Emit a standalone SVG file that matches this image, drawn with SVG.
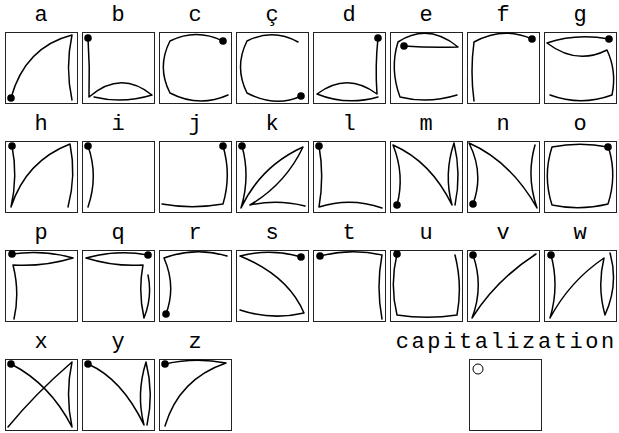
<svg xmlns="http://www.w3.org/2000/svg" width="619" height="433" viewBox="0 0 619 433">
<style>
.box{fill:#fff;stroke:#222;stroke-width:1}
.s{fill:none;stroke:#000;stroke-width:1.5;stroke-linejoin:round;stroke-linecap:round}
.dot{fill:#000}
.lbl{font-family:"Liberation Mono","Courier New",monospace;font-size:22px;fill:#000;text-anchor:middle}
.wide{letter-spacing:2.6px}
</style>
<rect width="619" height="433" fill="#fff"/>
<g id="a" transform="translate(5,32)"><text class="lbl" x="36" y="-11">a</text><rect class="box" x="0.5" y="0.5" width="72" height="71"/><path class="s" d="M6,66 Q20,15 67,3 Q60,35.5 67,68"/><circle class="dot" cx="6" cy="66" r="3.8"/></g>
<g id="b" transform="translate(82,32)"><text class="lbl" x="36" y="-11">b</text><rect class="box" x="0.5" y="0.5" width="72" height="71"/><path class="s" d="M6,6 Q8,35 7,65 Q38.5,37.4 70,63 Q41,72 12,65"/><circle class="dot" cx="6" cy="6" r="3.8"/></g>
<g id="c" transform="translate(159,32)"><text class="lbl" x="36" y="-11">c</text><rect class="box" x="0.5" y="0.5" width="72" height="71"/><path class="s" d="M64,9 Q37,-4 11,9 Q-2.4,35 11,61 Q40,76 69,63"/><circle class="dot" cx="64" cy="9" r="3.8"/></g>
<g id="c-cedilla" transform="translate(236,32)"><text class="lbl" x="36" y="-11">ç</text><rect class="box" x="0.5" y="0.5" width="72" height="71"/><path class="s" d="M62,10 Q37,-4 11,9 Q-2,35 11,61 Q40,76 65,64"/><circle class="dot" cx="65" cy="64" r="3.8"/></g>
<g id="d" transform="translate(313,32)"><text class="lbl" x="36" y="-11">d</text><rect class="box" x="0.5" y="0.5" width="72" height="71"/><path class="s" d="M65,6 Q62,34 64,62 Q34,39.4 4,62 Q33.5,74 65,65"/><circle class="dot" cx="65" cy="6" r="3.8"/></g>
<g id="e" transform="translate(390,32)"><text class="lbl" x="36" y="-11">e</text><rect class="box" x="0.5" y="0.5" width="72" height="71"/><path class="s" d="M14,14 Q41,16 68,15 Q38,-9.5 8,10 Q-0.4,37 10,65 Q38,72 67,63"/><circle class="dot" cx="14" cy="14" r="3.8"/></g>
<g id="f" transform="translate(467,32)"><text class="lbl" x="36" y="-11">f</text><rect class="box" x="0.5" y="0.5" width="72" height="71"/><path class="s" d="M65,7 Q36,-6 7,10 Q3,39.5 7,69"/><circle class="dot" cx="65" cy="7" r="3.8"/></g>
<g id="g" transform="translate(544,32)"><text class="lbl" x="36" y="-11">g</text><rect class="box" x="0.5" y="0.5" width="72" height="71"/><path class="s" d="M65,7 Q32,1 3,11 Q32.4,33.5 63,18 Q73,39.5 68,63 Q37,74.4 6,63"/><circle class="dot" cx="65" cy="7" r="3.8"/></g>
<g id="h" transform="translate(5,141)"><text class="lbl" x="36" y="-11">h</text><rect class="box" x="0.5" y="0.5" width="72" height="71"/><path class="s" d="M7,5 Q13,35 6,66 Q21,20 65,3 Q71.4,34.5 63,66"/><circle class="dot" cx="7" cy="5" r="3.8"/></g>
<g id="i" transform="translate(82,141)"><text class="lbl" x="36" y="-11">i</text><rect class="box" x="0.5" y="0.5" width="72" height="71"/><path class="s" d="M6,5 Q16.6,35 6,66"/><circle class="dot" cx="6" cy="5" r="3.8"/></g>
<g id="j" transform="translate(159,141)"><text class="lbl" x="36" y="-11">j</text><rect class="box" x="0.5" y="0.5" width="72" height="71"/><path class="s" d="M64,5 Q72.6,34 64,63 Q33,68.4 3,63"/><circle class="dot" cx="64" cy="5" r="3.8"/></g>
<g id="k" transform="translate(236,141)"><text class="lbl" x="36" y="-11">k</text><rect class="box" x="0.5" y="0.5" width="72" height="71"/><path class="s" d="M6,5 Q14.5,36 5,67 Q24.8,25.1 67,6 Q49.4,43.1 14,64 Q41.5,58 69,65"/><circle class="dot" cx="6" cy="5" r="3.8"/></g>
<g id="l" transform="translate(313,141)"><text class="lbl" x="36" y="-11">l</text><rect class="box" x="0.5" y="0.5" width="72" height="71"/><path class="s" d="M6,5 Q11.4,35 6,66 Q37.5,56 69,67"/><circle class="dot" cx="6" cy="5" r="3.8"/></g>
<g id="m" transform="translate(390,141)"><text class="lbl" x="36" y="-11">m</text><rect class="box" x="0.5" y="0.5" width="72" height="71"/><path class="s" d="M7,64 Q15,34 3,4 Q40.9,20.6 62,64 Q53.6,33 64,2 Q71.5,33 65,64"/><circle class="dot" cx="7" cy="64" r="3.8"/></g>
<g id="n" transform="translate(467,141)"><text class="lbl" x="36" y="-11">n</text><rect class="box" x="0.5" y="0.5" width="72" height="71"/><path class="s" d="M6,63 Q17.4,32.5 2,2 Q43.4,20.1 70,67 Q59,35.5 68,4"/><circle class="dot" cx="6" cy="63" r="3.8"/></g>
<g id="o" transform="translate(544,141)"><text class="lbl" x="36" y="-11">o</text><rect class="box" x="0.5" y="0.5" width="72" height="71"/><path class="s" d="M64,6 Q36,0.6 8,6 Q-1.4,35 8,64 Q36,70 64,63 Q73,35.5 65,8"/><circle class="dot" cx="64" cy="6" r="3.8"/></g>
<g id="p" transform="translate(5,250)"><text class="lbl" x="36" y="-11">p</text><rect class="box" x="0.5" y="0.5" width="72" height="71"/><path class="s" d="M7,4 Q38,-0.6 68,8 Q38,17 8,15 Q15,42.5 9,69"/><circle class="dot" cx="7" cy="4" r="3.8"/></g>
<g id="q" transform="translate(82,250)"><text class="lbl" x="36" y="-11">q</text><rect class="box" x="0.5" y="0.5" width="72" height="71"/><path class="s" d="M66,5 Q35,-0.6 4,8 Q33,17 61,15 Q56,41.5 62,68 Q70.6,46.5 66,25"/><circle class="dot" cx="66" cy="5" r="3.8"/></g>
<g id="r" transform="translate(159,250)"><text class="lbl" x="36" y="-11">r</text><rect class="box" x="0.5" y="0.5" width="72" height="71"/><path class="s" d="M7,64 Q17.4,36 5,8 Q36.5,-3.6 68,6"/><circle class="dot" cx="7" cy="64" r="3.8"/></g>
<g id="s" transform="translate(236,250)"><text class="lbl" x="36" y="-11">s</text><rect class="box" x="0.5" y="0.5" width="72" height="71"/><path class="s" d="M65,7 Q34.5,-1.9 4,6 Q52,25.5 68,63 Q36,70.5 4,60"/><circle class="dot" cx="65" cy="7" r="3.8"/></g>
<g id="t" transform="translate(313,250)"><text class="lbl" x="36" y="-11">t</text><rect class="box" x="0.5" y="0.5" width="72" height="71"/><path class="s" d="M7,6 Q38,-2 69,5 Q63,37 69,69"/><circle class="dot" cx="7" cy="6" r="3.8"/></g>
<g id="u" transform="translate(390,250)"><text class="lbl" x="36" y="-11">u</text><rect class="box" x="0.5" y="0.5" width="72" height="71"/><path class="s" d="M7,4 Q-0.4,34.5 7,65 Q37,69.6 67,65 Q72.6,35 65,5"/><circle class="dot" cx="7" cy="4" r="3.8"/></g>
<g id="v" transform="translate(467,250)"><text class="lbl" x="36" y="-11">v</text><rect class="box" x="0.5" y="0.5" width="72" height="71"/><path class="s" d="M6,5 Q17,36.5 5,68 Q30,29 69,4"/><circle class="dot" cx="6" cy="5" r="3.8"/></g>
<g id="w" transform="translate(544,250)"><text class="lbl" x="36" y="-11">w</text><rect class="box" x="0.5" y="0.5" width="72" height="71"/><path class="s" d="M7,5 Q15.5,36.5 6,68 Q26,31 60,8 Q53,36.5 61,65 Q75,34 66,3"/><circle class="dot" cx="7" cy="5" r="3.8"/></g>
<g id="x" transform="translate(5,359)"><text class="lbl" x="36" y="-11">x</text><rect class="box" x="0.5" y="0.5" width="72" height="71"/><path class="s" d="M6,5 Q45,25 67,68 Q60,35 67,3 Q30,35 3,68"/><circle class="dot" cx="6" cy="5" r="3.8"/></g>
<g id="y" transform="translate(82,359)"><text class="lbl" x="36" y="-11">y</text><rect class="box" x="0.5" y="0.5" width="72" height="71"/><path class="s" d="M6,5 Q40,20 62,66 Q54,35 64,3 Q72,35 65,66"/><circle class="dot" cx="6" cy="5" r="3.8"/></g>
<g id="z" transform="translate(159,359)"><text class="lbl" x="36" y="-11">z</text><rect class="box" x="0.5" y="0.5" width="72" height="71"/><path class="s" d="M6,5 Q36,-2 67,4 Q20,20 6,67"/><circle class="dot" cx="6" cy="5" r="3.8"/></g>
<g id="capitalization" transform="translate(467,359)"><text class="lbl wide" x="39.3" y="-11">capitalization</text><rect class="box" x="2.5" y="0.5" width="72" height="71"/><circle cx="11" cy="10" r="5" fill="none" stroke="#000" stroke-width="1"/></g>
</svg>
